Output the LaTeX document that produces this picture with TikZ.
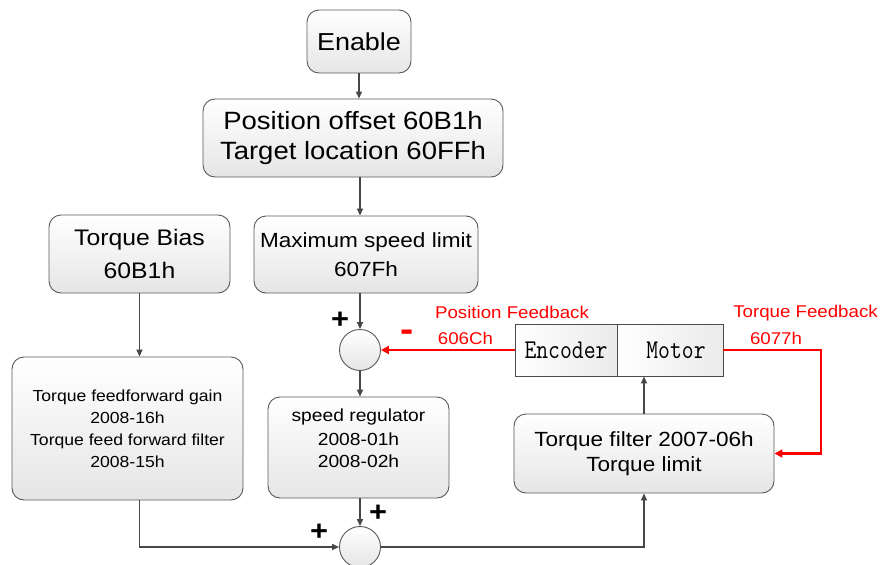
\documentclass[tikz,border=0pt]{standalone}
\usepackage{fontspec}
\setmainfont{Liberation Sans}[FakeStretch=1.1]
\usetikzlibrary{arrows.meta}

\newcommand{\fs}[2]{\fontsize{#1}{#2}\selectfont}

\tikzset{
    blk/.style={draw=black!65, line width=0.9pt, rounded corners=12pt, shading=axis,
        top color=white, bottom color=black!10, align=center, inner sep=0pt},
    dev/.style={draw=black!70, line width=0.9pt, left color=white, right color=black!8,
        inner sep=0pt, minimum height=52pt},
    sum/.style={circle, draw=black!65, line width=0.9pt, top color=white, bottom color=black!10,
        minimum size=41pt, inner sep=0pt},
    flow/.style={draw=black!72, line width=1.7pt, -{Triangle[length=7pt,width=6pt]}},
    fb/.style={draw=red, line width=2.3pt, -{Triangle[length=8pt,width=8pt]}},
    sgn/.style={font=\fs{28}{28}\bfseries},
    fbtxt/.style={text=red, font=\fs{17}{17}}
}

\begin{document}
\begin{tikzpicture}[x=1pt,y=-1pt]
    \useasboundingbox (0,0) rectangle (881,565);

    % set-point chain
    \node[blk, minimum width=104pt, minimum height=63pt, font=\fs{24.5}{30}] (enable) at (359,41.5) {Enable};
    \node[blk, minimum width=300pt, minimum height=78pt, font=\fs{25}{30}] (position) at (353,138)
        {Position offset 60B1h\\Target location 60FFh};
    \node[blk, minimum width=224pt, minimum height=77pt, font=\fs{20.5}{29}] (maxspd) at (366,254.5)
        {Maximum speed limit\\607Fh};
    \node[sum] (sum1) at (360,350) {};
    \node[blk, minimum width=181pt, minimum height=101pt] (speedreg) at (358.5,447.5) {};
    \node[align=center, font=\fs{17.5}{22}] (speedtxt) at (358.5,438) {speed regulator\\[2pt]2008-01h\\2008-02h};
    \node[sum] (sum2) at (360,547) {};

    % feed forward branch
    \node[blk, minimum width=181pt, minimum height=78pt, font=\fs{22.5}{33}] (bias) at (139.5,254) {Torque Bias\\60B1h};
    \node[blk, minimum width=231pt, minimum height=143pt, font=\fs{16}{22}] (ffwd) at (127.5,428.5)
        {Torque feedforward gain\\2008-16h\\Torque feed forward filter\\2008-15h};

    % torque stage and motor
    \node[blk, minimum width=260pt, minimum height=79pt, font=\fs{20.5}{25}] (tfilter) at (644,453.5)
        {Torque filter 2007-06h\\Torque limit};
    \node[dev, minimum width=102pt] (encoder) at (566,350) {\scalebox{1}[1.18]{\ttfamily\fs{23}{23}Encoder}};
    \node[dev, minimum width=106pt] (motor) at (670,350) {\scalebox{1}[1.18]{\ttfamily\fs{23}{23}\hspace{12pt}Motor}};

    % connectors
    \draw[flow] (enable.south) -- (enable.south |- position.north);
    \draw[flow] (sum1.north |- position.south) -- (sum1.north |- maxspd.north);
    \draw[flow] (sum1.north |- maxspd.south) -- (sum1.north);
    \draw[flow] (sum1.south) -- (sum1.south |- speedreg.north);
    \draw[flow] (sum2.north |- speedreg.south) -- (sum2.north);
    \draw[flow] (bias.south) -- (bias.south |- ffwd.north);
    \draw[flow] (bias.south |- ffwd.south) |- (sum2.west);
    \draw[flow] (sum2.east) -| (tfilter.south);
    \draw[flow] (tfilter.north) -- (tfilter.north |- motor.south);

    % feedback paths
    \coordinate (tqfb) at (821,453.5);
    \draw[fb] (encoder.west) -- (sum1.east);
    \draw[fb] (motor.east) -| (tqfb) -- (tfilter.east);

    % signs and feedback labels
    \foreach \x/\y/\n in {340/320/plus1, 378/513/plus2, 319/532/plus3}{
        \node[sgn] (\n) at (\x,\y) {+};
    }
    \node[sgn, text=red, font=\fs{36}{36}\bfseries] (minus) at (407,336) {-};
    \node[fbtxt] (posfb) at (512,312) {Position Feedback};
    \node[fbtxt] (posobj) at (465.5,338) {606Ch};
    \node[fbtxt] (tqfbtxt) at (805.5,313) {Torque Feedback};
    \node[fbtxt] (tqobj) at (776,338) {6077h};
\end{tikzpicture}
\end{document}
